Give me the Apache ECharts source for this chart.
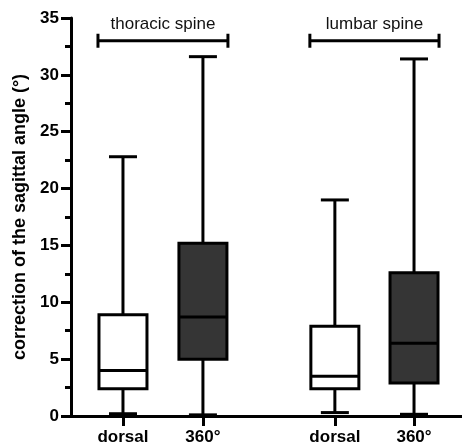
<!DOCTYPE html>
<html>
<head>
<meta charset="utf-8">
<script src="https://cdn.jsdelivr.net/npm/echarts@6/dist/echarts.min.js"></script>
<style>
  html, body { margin: 0; padding: 0; background: #fff; }
  #chart { width: 462px; height: 446px; }
</style>
</head>
<body>
<div id="chart"></div>
<script>
// positions of the four boxes on the x axis and their labels
const tickPos = [1, 2, 3.65, 4.64];
const tickNames = ["dorsal", "360°", "dorsal", "360°"];
const groupNames = ["thoracic spine", "lumbar spine"];
const groupLevel = [33, 33];

// [min, Q1, median, Q3, max] per region (thoracic, lumbar)
const dorsalBoxes = [
  [0.2, 2.4, 4.0, 8.9, 22.8],
  [0.3, 2.4, 3.5, 7.9, 19.0],
];
const fusionBoxes = [
  [0.1, 5.0, 8.7, 15.2, 31.6],
  [0.15, 2.9, 6.4, 12.6, 31.4],
];

const FONT = "'Liberation Sans', Arial, sans-serif";

function boxRenderer(fill) {
  return function (params, api) {
    const x = api.value(0);
    const p = [1, 2, 3, 4, 5].map((i) => api.coord([x, api.value(i)]));
    const cx = p[0][0];
    const bw = 48; // box width
    const cw = 28; // whisker cap width
    const ls = { stroke: "#000", lineWidth: 3 };
    return {
      type: "group",
      children: [
        { type: "line", shape: { x1: cx, y1: p[0][1], x2: cx, y2: p[4][1] }, style: ls },
        { type: "line", shape: { x1: cx - cw / 2, y1: p[0][1], x2: cx + cw / 2, y2: p[0][1] }, style: ls },
        { type: "line", shape: { x1: cx - cw / 2, y1: p[4][1], x2: cx + cw / 2, y2: p[4][1] }, style: ls },
        {
          type: "rect",
          shape: { x: cx - bw / 2, y: p[3][1], width: bw, height: p[1][1] - p[3][1] },
          style: { fill: fill, stroke: "#000", lineWidth: 3 },
        },
        { type: "line", shape: { x1: cx - bw / 2, y1: p[2][1], x2: cx + bw / 2, y2: p[2][1] }, style: ls },
      ],
    };
  };
}

function bracketRenderer(params, api) {
  const a = api.coord([api.value(0), api.value(2)]);
  const b = api.coord([api.value(1), api.value(2)]);
  const x1 = a[0] - 25, x2 = b[0] + 25, y = a[1];
  const ls = { stroke: "#000", lineWidth: 3 };
  return {
    type: "group",
    children: [
      { type: "line", shape: { x1: x1, y1: y, x2: x2, y2: y }, style: ls },
      { type: "line", shape: { x1: x1, y1: y - 7, x2: x1, y2: y + 7 }, style: ls },
      { type: "line", shape: { x1: x2, y1: y - 7, x2: x2, y2: y + 7 }, style: ls },
      {
        type: "text",
        style: {
          text: groupNames[params.dataIndex],
          x: (x1 + x2) / 2,
          y: y - 16,
          align: "center",
          verticalAlign: "middle",
          fontSize: 17,
          fontFamily: FONT,
          fill: "#111",
        },
      },
    ],
  };
}

const chart = echarts.init(document.getElementById("chart"));
chart.setOption({
  animation: false,
  grid: { left: 71, right: 0, top: 18, bottom: 30 },
  xAxis: {
    type: "value",
    min: 0.35,
    max: 5.24,
    splitLine: { show: false },
    axisLine: { show: true, onZero: false, lineStyle: { color: "#000", width: 3 } },
    axisTick: { show: true, length: 10, customValues: tickPos, lineStyle: { color: "#000", width: 3 } },
    axisLabel: {
      customValues: tickPos,
      margin: 13,
      color: "#000",
      fontSize: 17,
      fontWeight: "bold",
      fontFamily: FONT,
      formatter: (v) => {
        const i = tickPos.findIndex((t) => Math.abs(t - v) < 0.01);
        return i >= 0 ? tickNames[i] : "";
      },
    },
  },
  yAxis: {
    type: "value",
    min: 0,
    max: 35,
    interval: 5,
    name: "correction of the sagittal angle (°)",
    nameLocation: "middle",
    nameGap: 42,
    nameTextStyle: { color: "#000", fontSize: 18, fontWeight: "bold", fontFamily: FONT },
    splitLine: { show: false },
    axisLine: { show: true, lineStyle: { color: "#000", width: 3 } },
    axisTick: { show: true, length: 10, lineStyle: { color: "#000", width: 3 } },
    minorTick: { show: true, splitNumber: 2, length: 6, lineStyle: { color: "#000", width: 3 } },
    axisLabel: { margin: 12, color: "#000", fontSize: 17, fontWeight: "bold", fontFamily: FONT },
  },
  series: [
    {
      name: "dorsal",
      type: "custom",
      renderItem: boxRenderer("#fff"),
      encode: { x: 0, y: [1, 2, 3, 4, 5] },
      data: dorsalBoxes.map((b, i) => [tickPos[i * 2]].concat(b)),
      z: 3,
    },
    {
      name: "360°",
      type: "custom",
      renderItem: boxRenderer("#353535"),
      encode: { x: 0, y: [1, 2, 3, 4, 5] },
      data: fusionBoxes.map((b, i) => [tickPos[i * 2 + 1]].concat(b)),
      z: 3,
    },
    {
      name: "groups",
      type: "custom",
      renderItem: bracketRenderer,
      encode: { x: [0, 1], y: 2 },
      data: groupLevel.map((lv, i) => [tickPos[i * 2], tickPos[i * 2 + 1], lv]),
      z: 3,
    },
  ],
});
window.addEventListener("resize", () => chart.resize());
</script>
</body>
</html>
